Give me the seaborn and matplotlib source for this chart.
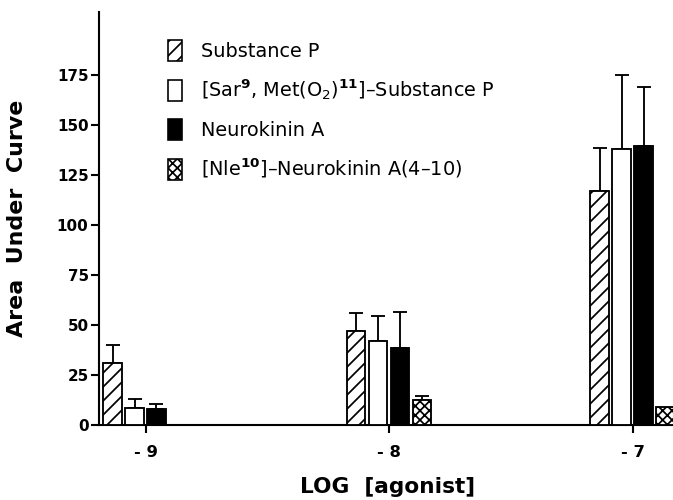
import numpy as np
import pandas as pd
import matplotlib
matplotlib.use("Agg")
import matplotlib.pyplot as plt
from matplotlib.patches import Patch
import seaborn as sns

# Dose groups (log molar concentration) and their axis labels
doses = ["-9", "-8", "-7"]
dose_labels = ["- 9", "- 8", "- 7"]

# Agonist series
agonists = ["SP", "SarMet", "NKA", "Nle"]
legend_labels = [
    "Substance P",
    r"[Sar$^{\mathbf{9}}$, Met(O$_{2}$)$^{\mathbf{11}}$]–Substance P",
    "Neurokinin A",
    r"[Nle$^{\mathbf{10}}$]–Neurokinin A(4–10)",
]

# Mean area under curve and SEM for each agonist at each dose
substance_p = [31, 47, 117]
substance_p_sem = [9, 9, 21.5]
sar_met = [8.7, 42, 138]
sar_met_sem = [4.3, 12.5, 37]
neurokinin_a = [8, 38.3, 139.5]
neurokinin_a_sem = [2.5, 18.4, 29.5]
nle_nka = [np.nan, 12.3, 9]
nle_nka_sem = [np.nan, 2, np.nan]

means = [substance_p, sar_met, neurokinin_a, nle_nka]
sems = [substance_p_sem, sar_met_sem, neurokinin_a_sem, nle_nka_sem]
fills = ["white", "white", "black", "white"]
hatches = ["//", "", "", "xxx"]

rows = []
for ag, vals in zip(agonists, means):
    for d, v in zip(doses, vals):
        rows.append({"dose": d, "agonist": ag, "auc": v})
df = pd.DataFrame(rows)

sns.set_style("ticks")
plt.rcParams["font.family"] = ["DejaVu Sans"]
plt.rcParams["mathtext.default"] = "regular"
plt.rcParams["hatch.linewidth"] = 1.5
plt.rcParams["hatch.color"] = "black"
for key in ("text.color", "axes.labelcolor", "xtick.color", "ytick.color",
            "axes.edgecolor"):
    plt.rcParams[key] = "black"

DPI = 84
fig = plt.figure(figsize=(673 / DPI, 500 / DPI), dpi=DPI)
ax = fig.add_axes([99 / 673, 75 / 500, 574 / 673, 413 / 500])

sns.barplot(
    data=df, x="dose", y="auc", hue="agonist",
    order=doses, hue_order=agonists, palette=fills,
    width=0.36, gap=0.15, errorbar=None,
    edgecolor="black", linewidth=1.6, legend=False, ax=ax, zorder=3,
)

# Hatch patterns and one-sided SEM error bars
for k, (cont, hatch) in enumerate(zip(ax.containers, hatches)):
    for bar in cont:
        bar.set_hatch(hatch)
        bar.set_edgecolor("black")
        xc = bar.get_x() + bar.get_width() / 2
        h = bar.get_height()
        cat = int(round(xc))
        err = sems[k][cat]
        if np.isnan(h) or np.isnan(err):
            continue
        ax.errorbar(xc, h, yerr=[[0], [err]], fmt="none", ecolor="black",
                    elinewidth=1.6, capsize=6, capthick=1.6, zorder=2)

ax.set_xlim(-0.191, 2.166)
ax.set_ylim(0, 206.5)
ax.set_yticks(range(0, 176, 25))
ax.set_xticks(range(len(doses)), dose_labels)

sns.despine(ax=ax)
for side in ("left", "bottom"):
    ax.spines[side].set_linewidth(1.8)
ax.tick_params(axis="both", length=7, width=1.8, direction="out", labelsize=13)
ax.tick_params(axis="x", pad=10, labelsize=14)
ax.tick_params(axis="y", pad=2)
for lbl in ax.get_xticklabels() + ax.get_yticklabels():
    lbl.set_fontweight("bold")

ax.set_xlabel("LOG  [agonist]", fontsize=18.5, fontweight="bold")
ax.set_ylabel("Area  Under  Curve", fontsize=19, fontweight="bold")
ax.xaxis.set_label_coords(0.503, -0.125)
ax.yaxis.set_label_coords(-0.125, 0.5)

handles = [
    Patch(facecolor=f, edgecolor="black", hatch=h, linewidth=1.4)
    for f, h in zip(fills, hatches)
]
ax.legend(
    handles, legend_labels, loc="upper left", bbox_to_anchor=(0.12, 0.933),
    frameon=False, fontsize=16.5, handlelength=0.75, handleheight=1.3,
    handletextpad=0.95, labelspacing=0.87, borderpad=0, borderaxespad=0,
)

fig.savefig("out.png", dpi=DPI)
